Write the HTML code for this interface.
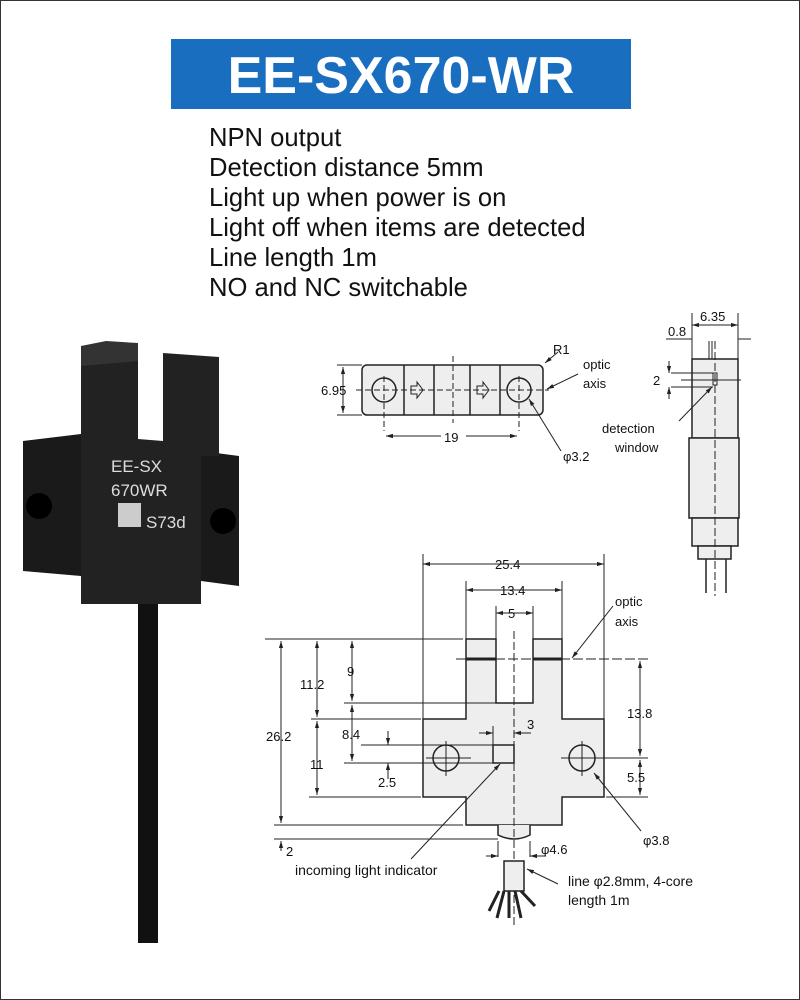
<!DOCTYPE html>
<html><head><meta charset="utf-8"><style>
body{margin:0;background:#fff}
#w{position:relative;width:798px;height:998px;border:1px solid #333;overflow:hidden;font-family:"Liberation Sans",sans-serif}
#t{position:absolute;left:170px;top:38px;width:460px;height:70px;background:#1a6ec0;color:#fff;font-size:52px;font-weight:bold;text-align:center;line-height:74px}
#l{position:absolute;left:208px;top:122px;font-size:25.6px;line-height:30px;color:#111}
svg{position:absolute;left:0;top:0}
</style></head><body><div id="w">
<div id="t">EE-SX670-WR</div>
<div id="l">NPN output<br>Detection distance 5mm<br>Light up when power is on<br>Light off when items are detected<br>Line length 1m<br>NO and NC switchable</div>
<svg width="800" height="1000" font-family="Liberation Sans,sans-serif">
<defs><marker id="a" viewBox="0 0 10 10" refX="10" refY="5" markerWidth="7" markerHeight="7" orient="auto-start-reverse"><path d="M0,2 L10,5 L0,8z" fill="#222"/></marker></defs>
<rect x="137" y="590" width="20" height="352" fill="#111"/>
<path d="M22,440 L80,433 L80,575 L22,570z" fill="#1a1a1a"/>
<path d="M200,450 L238,455 L238,585 L200,580z" fill="#1a1a1a"/>
<circle cx="38" cy="505" r="13" fill="#000"/><circle cx="222" cy="520" r="13" fill="#000"/>
<path d="M80,345 L137,342 L137,438 L162,440 L162,352 L218,356 L218,455 L200,455 L200,603 L80,603z" fill="#222"/>
<path d="M80,345 L105,340 L137,342 L137,360 L80,365z" fill="#333"/>
<text x="110" y="471" fill="#ddd" font-size="17">EE-SX</text>
<text x="110" y="495" fill="#ddd" font-size="17">670WR</text>
<rect x="117" y="502" width="23" height="24" fill="#ccc"/>
<text x="145" y="527" fill="#ddd" font-size="17">S73d</text>
<g stroke="#222" fill="none" stroke-width="1">
<rect x="361" y="364" width="181" height="50" rx="5" fill="#eee" stroke-width="1.5"/>
<path d="M403,364V414M433,364V414M469,364V414M499,364V414" stroke-width="1.5"/>
<circle cx="383" cy="389" r="12" stroke-width="1.5"/><circle cx="518" cy="389" r="12" stroke-width="1.5"/>
<path d="M355,389H548M383,375V430M518,375V430M452,355V422" stroke-dasharray="6,3"/>
<path d="M410,385h6v-4l6,8l-6,8v-4h-6z M476,385h6v-4l6,8l-6,8v-4h-6z"/>
<path d="M336,364H361M336,414H361"/>
<path d="M342,366V412" marker-start="url(#a)" marker-end="url(#a)"/>
<path d="M385,435H440M465,435H516" marker-start="url(#a)"/>
<path d="M394,435H385" marker-end="url(#a)"/><path d="M505,435H516" marker-end="url(#a)"/>
<path d="M557,351L544,362" marker-end="url(#a)"/>
<path d="M577,373L546,388" marker-end="url(#a)"/>
<path d="M560,450L528,398" marker-end="url(#a)"/>
<rect x="691" y="358" width="46" height="79" fill="#eee" stroke-width="1.5"/>
<rect x="688" y="437" width="50" height="80" fill="#eee" stroke-width="1.5"/>
<rect x="691" y="517" width="46" height="28" fill="#eee" stroke-width="1.5"/>
<rect x="697" y="545" width="33" height="13" fill="#eee" stroke-width="1.5"/>
<path d="M705,558V592M725,558V592" stroke-width="1.5"/>
<path d="M714,340V595" stroke-dasharray="8,3"/>
<path d="M691,312V358M737,312V358M691,324H737M665,338H691M737,338H750M708,340V358M711,340V358"/>
<path d="M695,324H691" marker-end="url(#a)"/><path d="M733,324H737" marker-end="url(#a)"/>
<rect x="712" y="372" width="4" height="12"/>
<path d="M670,372H712M670,386H712M680,379H740" />
<path d="M668,360V372" marker-end="url(#a)"/><path d="M668,398V386" marker-end="url(#a)"/>
<path d="M678,420L711,386" marker-end="url(#a)"/>
<path d="M422,718H465V638H495V702H532V638H561V718H603V796H561V824H465V796H422z" fill="#eee" stroke-width="1.5"/>
<path d="M465,658H495M532,658H561" stroke-width="3"/>
<path d="M497,824V834Q513,842 529,834V824" fill="#eee" stroke-width="1.5"/>
<circle cx="445" cy="757" r="13" stroke-width="1.5"/><circle cx="581" cy="757" r="13" stroke-width="1.5"/>
<path d="M425,757H470M445,740V775M560,757H602M581,740V775"/>
<rect x="492" y="744" width="21" height="18" stroke-width="1.5"/>
<path d="M513,630V925" stroke-dasharray="8,3"/>
<path d="M455,658H647" stroke-dasharray="10,3"/>
<path d="M422,553V718M603,553V718M465,580V638M561,580V638M495,605V638M532,605V638"/>
<path d="M422,563H603" marker-start="url(#a)" marker-end="url(#a)"/>
<path d="M465,589H561" marker-start="url(#a)" marker-end="url(#a)"/>
<path d="M495,612H532" marker-start="url(#a)" marker-end="url(#a)"/>
<path d="M264,638H462M343,702H495M310,718H420M308,796H420M273,824H462M273,838H497"/>
<path d="M280,640V822" marker-start="url(#a)" marker-end="url(#a)"/>
<path d="M280,850V840" marker-end="url(#a)"/>
<path d="M316,640V716" marker-start="url(#a)" marker-end="url(#a)"/>
<path d="M316,720V794" marker-start="url(#a)" marker-end="url(#a)"/>
<path d="M351,640V700" marker-start="url(#a)" marker-end="url(#a)"/>
<path d="M351,704V760" marker-start="url(#a)" marker-end="url(#a)"/>
<path d="M360,744H492M343,762H492"/>
<path d="M387,730V744" marker-end="url(#a)"/><path d="M387,778V762" marker-end="url(#a)"/>
<path d="M478,732H492" marker-end="url(#a)"/><path d="M530,732H513" marker-end="url(#a)"/><path d="M492,725V744"/>
<path d="M598,757H647M605,796H647"/>
<path d="M639,660V755" marker-start="url(#a)" marker-end="url(#a)"/>
<path d="M639,759V794" marker-start="url(#a)" marker-end="url(#a)"/>
<path d="M612,605L571,657" marker-end="url(#a)"/>
<path d="M640,830L593,772" marker-end="url(#a)"/>
<path d="M410,858L499,763" marker-end="url(#a)"/>
<path d="M497,840V856M529,840V856M485,855H497M529,855H545"/>
<path d="M488,855H497" marker-end="url(#a)"/><path d="M538,855H529" marker-end="url(#a)"/>
<rect x="503" y="860" width="20" height="30" fill="#eee" stroke-width="1.5"/>
<path d="M498,890L488,910M503,890L496,917M508,890L508,917M514,890L520,917M520,890L534,905" stroke-width="3"/>
<path d="M557,883L526,868" marker-end="url(#a)"/>
</g>
<g font-size="13" fill="#111">
<text x="320" y="394">6.95</text><text x="443" y="441">19</text><text x="552" y="353">R1</text>
<text x="582" y="368">optic</text><text x="582" y="387">axis</text><text x="562" y="460">φ3.2</text>
<text x="699" y="320">6.35</text><text x="667" y="335">0.8</text><text x="652" y="384">2</text>
<text x="601" y="432">detection</text><text x="614" y="451">window</text>
<text x="494" y="568">25.4</text><text x="499" y="594">13.4</text><text x="507" y="617">5</text>
<text x="614" y="605">optic</text><text x="614" y="625">axis</text>
<text x="299" y="688">11.2</text><text x="346" y="675">9</text><text x="265" y="740">26.2</text>
<text x="341" y="738">8.4</text><text x="309" y="768">11</text><text x="377" y="786">2.5</text>
<text x="526" y="728">3</text><text x="626" y="717">13.8</text><text x="626" y="781">5.5</text>
<text x="642" y="844">φ3.8</text><text x="540" y="853">φ4.6</text><text x="285" y="855">2</text>
<text x="294" y="874" font-size="14">incoming light indicator</text>
<text x="567" y="885" font-size="14">line φ2.8mm, 4-core</text><text x="567" y="904" font-size="14">length 1m</text>
</g>
</svg></div></body></html>
